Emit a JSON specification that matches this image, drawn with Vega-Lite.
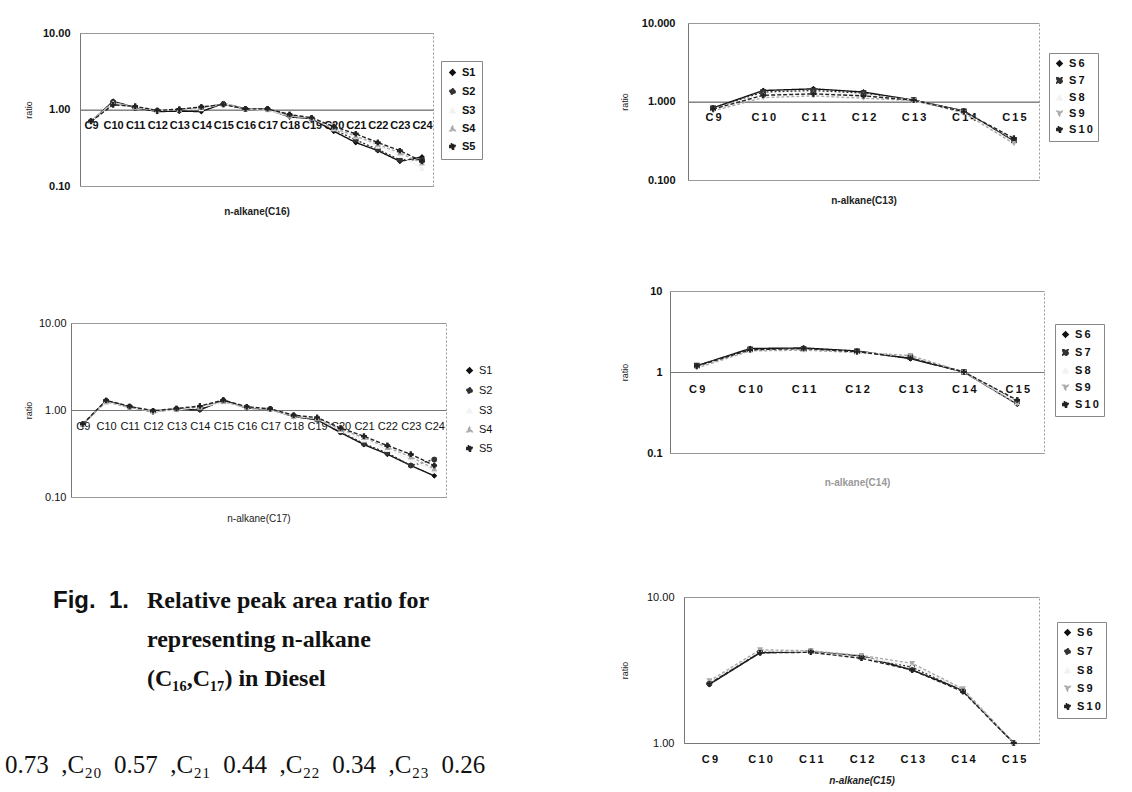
{
  "$schema": "https://vega.github.io/schema/vega-lite/v6.json",
  "background": "white",
  "padding": {"left": 5, "top": 16, "right": 0, "bottom": 0},
  "datasets": {
    "c16": [
      {"c":"C9","s":"S1","v":0.69},{"c":"C9","s":"S2","v":0.70},{"c":"C9","s":"S3","v":0.70},{"c":"C9","s":"S4","v":0.71},{"c":"C9","s":"S5","v":0.70},
      {"c":"C10","s":"S1","v":1.28},{"c":"C10","s":"S2","v":1.25},{"c":"C10","s":"S3","v":1.22},{"c":"C10","s":"S4","v":1.20},{"c":"C10","s":"S5","v":1.15},
      {"c":"C11","s":"S1","v":1.06},{"c":"C11","s":"S2","v":1.05},{"c":"C11","s":"S3","v":1.07},{"c":"C11","s":"S4","v":1.08},{"c":"C11","s":"S5","v":1.10},
      {"c":"C12","s":"S1","v":0.94},{"c":"C12","s":"S2","v":0.96},{"c":"C12","s":"S3","v":0.97},{"c":"C12","s":"S4","v":0.98},{"c":"C12","s":"S5","v":0.97},
      {"c":"C13","s":"S1","v":0.95},{"c":"C13","s":"S2","v":0.98},{"c":"C13","s":"S3","v":1.00},{"c":"C13","s":"S4","v":1.00},{"c":"C13","s":"S5","v":1.01},
      {"c":"C14","s":"S1","v":0.94},{"c":"C14","s":"S2","v":1.05},{"c":"C14","s":"S3","v":1.02},{"c":"C14","s":"S4","v":1.06},{"c":"C14","s":"S5","v":1.08},
      {"c":"C15","s":"S1","v":1.20},{"c":"C15","s":"S2","v":1.18},{"c":"C15","s":"S3","v":1.19},{"c":"C15","s":"S4","v":1.17},{"c":"C15","s":"S5","v":1.16},
      {"c":"C16","s":"S1","v":1.02},{"c":"C16","s":"S2","v":1.01},{"c":"C16","s":"S3","v":1.02},{"c":"C16","s":"S4","v":1.03},{"c":"C16","s":"S5","v":1.02},
      {"c":"C17","s":"S1","v":1.00},{"c":"C17","s":"S2","v":1.01},{"c":"C17","s":"S3","v":0.98},{"c":"C17","s":"S4","v":1.00},{"c":"C17","s":"S5","v":1.02},
      {"c":"C18","s":"S1","v":0.80},{"c":"C18","s":"S2","v":0.84},{"c":"C18","s":"S3","v":0.82},{"c":"C18","s":"S4","v":0.83},{"c":"C18","s":"S5","v":0.86},
      {"c":"C19","s":"S1","v":0.76},{"c":"C19","s":"S2","v":0.75},{"c":"C19","s":"S3","v":0.78},{"c":"C19","s":"S4","v":0.76},{"c":"C19","s":"S5","v":0.78},
      {"c":"C20","s":"S1","v":0.52},{"c":"C20","s":"S2","v":0.55},{"c":"C20","s":"S3","v":0.56},{"c":"C20","s":"S4","v":0.57},{"c":"C20","s":"S5","v":0.60},
      {"c":"C21","s":"S1","v":0.37},{"c":"C21","s":"S2","v":0.40},{"c":"C21","s":"S3","v":0.44},{"c":"C21","s":"S4","v":0.45},{"c":"C21","s":"S5","v":0.48},
      {"c":"C22","s":"S1","v":0.29},{"c":"C22","s":"S2","v":0.30},{"c":"C22","s":"S3","v":0.33},{"c":"C22","s":"S4","v":0.35},{"c":"C22","s":"S5","v":0.37},
      {"c":"C23","s":"S1","v":0.21},{"c":"C23","s":"S2","v":0.22},{"c":"C23","s":"S3","v":0.25},{"c":"C23","s":"S4","v":0.27},{"c":"C23","s":"S5","v":0.29},
      {"c":"C24","s":"S1","v":0.24},{"c":"C24","s":"S2","v":0.22},{"c":"C24","s":"S3","v":0.17},{"c":"C24","s":"S4","v":0.20},{"c":"C24","s":"S5","v":0.21}
    ],
    "c17": [
      {"c":"C9","s":"S1","v":0.68},{"c":"C9","s":"S2","v":0.68},{"c":"C9","s":"S3","v":0.69},{"c":"C9","s":"S4","v":0.68},{"c":"C9","s":"S5","v":0.69},
      {"c":"C10","s":"S1","v":1.28},{"c":"C10","s":"S2","v":1.27},{"c":"C10","s":"S3","v":1.25},{"c":"C10","s":"S4","v":1.24},{"c":"C10","s":"S5","v":1.29},
      {"c":"C11","s":"S1","v":1.08},{"c":"C11","s":"S2","v":1.09},{"c":"C11","s":"S3","v":1.07},{"c":"C11","s":"S4","v":1.06},{"c":"C11","s":"S5","v":1.10},
      {"c":"C12","s":"S1","v":0.95},{"c":"C12","s":"S2","v":0.97},{"c":"C12","s":"S3","v":0.96},{"c":"C12","s":"S4","v":0.97},{"c":"C12","s":"S5","v":0.98},
      {"c":"C13","s":"S1","v":1.02},{"c":"C13","s":"S2","v":1.03},{"c":"C13","s":"S3","v":1.00},{"c":"C13","s":"S4","v":1.01},{"c":"C13","s":"S5","v":1.04},
      {"c":"C14","s":"S1","v":1.00},{"c":"C14","s":"S2","v":1.02},{"c":"C14","s":"S3","v":1.08},{"c":"C14","s":"S4","v":1.10},{"c":"C14","s":"S5","v":1.11},
      {"c":"C15","s":"S1","v":1.30},{"c":"C15","s":"S2","v":1.28},{"c":"C15","s":"S3","v":1.22},{"c":"C15","s":"S4","v":1.25},{"c":"C15","s":"S5","v":1.30},
      {"c":"C16","s":"S1","v":1.05},{"c":"C16","s":"S2","v":1.07},{"c":"C16","s":"S3","v":1.08},{"c":"C16","s":"S4","v":1.06},{"c":"C16","s":"S5","v":1.09},
      {"c":"C17","s":"S1","v":1.02},{"c":"C17","s":"S2","v":1.03},{"c":"C17","s":"S3","v":1.02},{"c":"C17","s":"S4","v":1.03},{"c":"C17","s":"S5","v":1.03},
      {"c":"C18","s":"S1","v":0.84},{"c":"C18","s":"S2","v":0.86},{"c":"C18","s":"S3","v":0.85},{"c":"C18","s":"S4","v":0.84},{"c":"C18","s":"S5","v":0.87},
      {"c":"C19","s":"S1","v":0.77},{"c":"C19","s":"S2","v":0.78},{"c":"C19","s":"S3","v":0.80},{"c":"C19","s":"S4","v":0.79},{"c":"C19","s":"S5","v":0.82},
      {"c":"C20","s":"S1","v":0.55},{"c":"C20","s":"S2","v":0.56},{"c":"C20","s":"S3","v":0.58},{"c":"C20","s":"S4","v":0.60},{"c":"C20","s":"S5","v":0.62},
      {"c":"C21","s":"S1","v":0.40},{"c":"C21","s":"S2","v":0.41},{"c":"C21","s":"S3","v":0.45},{"c":"C21","s":"S4","v":0.48},{"c":"C21","s":"S5","v":0.50},
      {"c":"C22","s":"S1","v":0.31},{"c":"C22","s":"S2","v":0.32},{"c":"C22","s":"S3","v":0.35},{"c":"C22","s":"S4","v":0.37},{"c":"C22","s":"S5","v":0.39},
      {"c":"C23","s":"S1","v":0.23},{"c":"C23","s":"S2","v":0.23},{"c":"C23","s":"S3","v":0.27},{"c":"C23","s":"S4","v":0.29},{"c":"C23","s":"S5","v":0.31},
      {"c":"C24","s":"S1","v":0.175},{"c":"C24","s":"S2","v":0.27},{"c":"C24","s":"S3","v":0.20},{"c":"C24","s":"S4","v":0.21},{"c":"C24","s":"S5","v":0.23}
    ],
    "c13": [
      {"c":"C9","s":"S6","v":0.83},{"c":"C9","s":"S7","v":0.82},{"c":"C9","s":"S8","v":0.80},{"c":"C9","s":"S9","v":0.76},{"c":"C9","s":"S10","v":0.80},
      {"c":"C10","s":"S6","v":1.38},{"c":"C10","s":"S7","v":1.32},{"c":"C10","s":"S8","v":1.25},{"c":"C10","s":"S9","v":1.12},{"c":"C10","s":"S10","v":1.20},
      {"c":"C11","s":"S6","v":1.45},{"c":"C11","s":"S7","v":1.38},{"c":"C11","s":"S8","v":1.30},{"c":"C11","s":"S9","v":1.18},{"c":"C11","s":"S10","v":1.25},
      {"c":"C12","s":"S6","v":1.32},{"c":"C12","s":"S7","v":1.28},{"c":"C12","s":"S8","v":1.22},{"c":"C12","s":"S9","v":1.10},{"c":"C12","s":"S10","v":1.18},
      {"c":"C13","s":"S6","v":1.04},{"c":"C13","s":"S7","v":1.04},{"c":"C13","s":"S8","v":1.03},{"c":"C13","s":"S9","v":1.03},{"c":"C13","s":"S10","v":1.04},
      {"c":"C14","s":"S6","v":0.76},{"c":"C14","s":"S7","v":0.75},{"c":"C14","s":"S8","v":0.74},{"c":"C14","s":"S9","v":0.72},{"c":"C14","s":"S10","v":0.74},
      {"c":"C15","s":"S6","v":0.31},{"c":"C15","s":"S7","v":0.32},{"c":"C15","s":"S8","v":0.30},{"c":"C15","s":"S9","v":0.29},{"c":"C15","s":"S10","v":0.34}
    ],
    "c14": [
      {"c":"C9","s":"S6","v":1.19},{"c":"C9","s":"S7","v":1.20},{"c":"C9","s":"S8","v":1.15},{"c":"C9","s":"S9","v":1.12},{"c":"C9","s":"S10","v":1.18},
      {"c":"C10","s":"S6","v":1.95},{"c":"C10","s":"S7","v":1.90},{"c":"C10","s":"S8","v":1.85},{"c":"C10","s":"S9","v":1.82},{"c":"C10","s":"S10","v":1.88},
      {"c":"C11","s":"S6","v":1.98},{"c":"C11","s":"S7","v":1.92},{"c":"C11","s":"S8","v":1.88},{"c":"C11","s":"S9","v":1.86},{"c":"C11","s":"S10","v":1.95},
      {"c":"C12","s":"S6","v":1.82},{"c":"C12","s":"S7","v":1.80},{"c":"C12","s":"S8","v":1.76},{"c":"C12","s":"S9","v":1.74},{"c":"C12","s":"S10","v":1.78},
      {"c":"C13","s":"S6","v":1.46},{"c":"C13","s":"S7","v":1.52},{"c":"C13","s":"S8","v":1.56},{"c":"C13","s":"S9","v":1.60},{"c":"C13","s":"S10","v":1.48},
      {"c":"C14","s":"S6","v":1.00},{"c":"C14","s":"S7","v":1.00},{"c":"C14","s":"S8","v":1.00},{"c":"C14","s":"S9","v":1.00},{"c":"C14","s":"S10","v":1.00},
      {"c":"C15","s":"S6","v":0.40},{"c":"C15","s":"S7","v":0.43},{"c":"C15","s":"S8","v":0.42},{"c":"C15","s":"S9","v":0.40},{"c":"C15","s":"S10","v":0.45}
    ],
    "c15": [
      {"c":"C9","s":"S6","v":2.52},{"c":"C9","s":"S7","v":2.55},{"c":"C9","s":"S8","v":2.60},{"c":"C9","s":"S9","v":2.66},{"c":"C9","s":"S10","v":2.55},
      {"c":"C10","s":"S6","v":4.15},{"c":"C10","s":"S7","v":4.20},{"c":"C10","s":"S8","v":4.30},{"c":"C10","s":"S9","v":4.35},{"c":"C10","s":"S10","v":4.15},
      {"c":"C11","s":"S6","v":4.22},{"c":"C11","s":"S7","v":4.25},{"c":"C11","s":"S8","v":4.20},{"c":"C11","s":"S9","v":4.28},{"c":"C11","s":"S10","v":4.18},
      {"c":"C12","s":"S6","v":3.94},{"c":"C12","s":"S7","v":3.90},{"c":"C12","s":"S8","v":3.85},{"c":"C12","s":"S9","v":3.98},{"c":"C12","s":"S10","v":3.80},
      {"c":"C13","s":"S6","v":3.16},{"c":"C13","s":"S7","v":3.30},{"c":"C13","s":"S8","v":3.40},{"c":"C13","s":"S9","v":3.51},{"c":"C13","s":"S10","v":3.16},
      {"c":"C14","s":"S6","v":2.30},{"c":"C14","s":"S7","v":2.28},{"c":"C14","s":"S8","v":2.33},{"c":"C14","s":"S9","v":2.35},{"c":"C14","s":"S10","v":2.25},
      {"c":"C15","s":"S6","v":1.00},{"c":"C15","s":"S7","v":1.00},{"c":"C15","s":"S8","v":1.00},{"c":"C15","s":"S9","v":1.00},{"c":"C15","s":"S10","v":1.00}
    ]
  },
  "spacing": 119,
  "resolve": {"scale": {"color": "independent", "shape": "independent", "strokeDash": "independent"}, "legend": {"color": "independent", "shape": "independent", "strokeDash": "independent"}},
  "hconcat": [
    {
      "spacing": 2,
      "resolve": {"scale": {"color": "independent", "shape": "independent", "strokeDash": "independent"}, "legend": {"color": "independent", "shape": "independent", "strokeDash": "independent"}},
      "title": {"text": "0.73\u00a0\u00a0,C₂₀\u00a0\u00a00.57\u00a0\u00a0,C₂₁\u00a0\u00a00.44\u00a0\u00a0,C₂₂\u00a0\u00a00.34\u00a0\u00a0,C₂₃\u00a0\u00a00.26", "orient": "bottom", "anchor": "start", "offset": 62, "dx": -17, "font": "Liberation Serif", "fontSize": 25, "fontWeight": "normal", "color": "#111"},
      "vconcat": [
        {"width": 1, "height": 1, "view": {"stroke": null}, "data": {"values": []}, "mark": "point", "encoding": {}},
        {
          "spacing": 65,
          "resolve": {"scale": {"color": "independent", "shape": "independent", "strokeDash": "independent"}, "legend": {"color": "independent", "shape": "independent", "strokeDash": "independent"}},
          "vconcat": [
            {
              "spacing": 99,
              "resolve": {"scale": {"color": "independent", "shape": "independent", "strokeDash": "independent"}, "legend": {"color": "independent", "shape": "independent", "strokeDash": "independent"}},
              "vconcat": [
                {
                  "spacing": 0,
                  "resolve": {"scale": {"color": "independent", "shape": "independent", "strokeDash": "independent"}, "legend": {"color": "independent", "shape": "independent", "strokeDash": "independent"}},
                  "hconcat": [
                    {"width": 1, "height": 1, "view": {"stroke": null}, "data": {"values": []}, "mark": "point", "encoding": {}},
                    {
                      "width": 353, "height": 153,
                      "data": {"name": "c16"},
                      "encoding": {
                        "x": {"field": "c", "type": "ordinal", "sort": ["C9","C10","C11","C12","C13","C14","C15","C16","C17","C18","C19","C20","C21","C22","C23","C24"], "scale": {"type": "point", "padding": 0.5},
                          "axis": {"title": "n-alkane(C16)", "offset": -76.5, "labelAngle": 0, "labelPadding": 10, "labelFontSize": 11, "titleY": 101.5, "titleBaseline": "middle", "titleFontSize": 10, "titleFontWeight": "bold"}},
                        "y": {"field": "v", "type": "quantitative", "scale": {"type": "log", "domain": [0.1, 10]},
                          "axis": {"title": "ratio", "values": [0.1, 1, 10], "format": ".2f", "labelPadding": 10, "minExtent": 43, "maxExtent": 43, "titlePadding": 4, "labelFontSize": 11}},
                        "color": {"field": "s", "type": "nominal", "scale": {"domain": ["S1","S2","S3","S4","S5"], "range": ["#111111","#333333","#f2f2f2","#aaaaaa","#222222"]},
                          "legend": {"title": null, "orient": "none", "legendX": 361, "legendY": 28, "strokeColor": "#888", "padding": 6, "rowPadding": 6}},
                        "shape": {"field": "s", "type": "nominal", "scale": {"domain": ["S1","S2","S3","S4","S5"], "range": ["diamond","circle","triangle-up","triangle-up","cross"]}},
                        "strokeDash": {"field": "s", "type": "nominal", "scale": {"domain": ["S1","S2","S3","S4","S5"], "range": [[1,0],[2,2],[1,0],[3,2],[4,2]]}}
                      },
                      "layer": [
                        {"mark": {"type": "line", "strokeWidth": 1.4}},
                        {"mark": {"type": "point", "filled": true, "size": 30, "opacity": 1}}
                      ]
                    }
                  ]
                },
                {
                  "spacing": 0,
                  "resolve": {"scale": {"color": "independent", "shape": "independent", "strokeDash": "independent"}, "legend": {"color": "independent", "shape": "independent", "strokeDash": "independent"}},
                  "hconcat": [
                    {"width": 1, "height": 1, "view": {"stroke": null}, "data": {"values": []}, "mark": "point", "encoding": {}},
                    {
                      "width": 375, "height": 174,
                      "data": {"name": "c17"},
                      "encoding": {
                        "x": {"field": "c", "type": "ordinal", "sort": ["C9","C10","C11","C12","C13","C14","C15","C16","C17","C18","C19","C20","C21","C22","C23","C24"], "scale": {"type": "point", "padding": 0.5},
                          "axis": {"title": "n-alkane(C17)", "offset": -87, "labelAngle": 0, "labelPadding": 10, "labelFontSize": 11, "labelFontWeight": "normal", "titleY": 108, "titleBaseline": "middle", "titleFontSize": 10, "titleFontWeight": "normal"}},
                        "y": {"field": "v", "type": "quantitative", "scale": {"type": "log", "domain": [0.1, 10]},
                          "axis": {"title": "ratio", "values": [0.1, 1, 10], "format": ".2f", "labelPadding": 5, "minExtent": 34, "maxExtent": 34, "titlePadding": 4, "labelFontSize": 11, "labelFontWeight": "normal"}},
                        "color": {"field": "s", "type": "nominal", "scale": {"domain": ["S1","S2","S3","S4","S5"], "range": ["#111111","#333333","#f2f2f2","#aaaaaa","#222222"]},
                          "legend": {"title": null, "orient": "none", "legendX": 388, "legendY": 37, "padding": 5, "rowPadding": 7, "labelFontWeight": "normal"}},
                        "shape": {"field": "s", "type": "nominal", "scale": {"domain": ["S1","S2","S3","S4","S5"], "range": ["diamond","circle","triangle-up","triangle-up","cross"]}},
                        "strokeDash": {"field": "s", "type": "nominal", "scale": {"domain": ["S1","S2","S3","S4","S5"], "range": [[1,0],[2,2],[1,0],[3,2],[4,2]]}}
                      },
                      "layer": [
                        {"mark": {"type": "line", "strokeWidth": 1.4}},
                        {"mark": {"type": "point", "filled": true, "size": 30, "opacity": 1}}
                      ]
                    }
                  ]
                }
              ]
            },
            {
              "width": 250, "height": 78,
              "view": {"stroke": null},
              "data": {"values": [
                {"part": "fig", "row": 1, "t": "Fig.\u00a0\u00a01."},
                {"part": "body", "row": 1, "t": "Relative peak area ratio for"},
                {"part": "body", "row": 2, "t": "representing n-alkane"},
                {"part": "body", "row": 3, "t": "(C₁₆,C₁₇) in Diesel"}
              ]},
              "encoding": {
                "y": {"field": "row", "type": "ordinal", "scale": {"type": "point", "padding": 0, "domain": [1, 2, 3]}, "axis": null},
                "text": {"field": "t"}
              },
              "layer": [
                {"transform": [{"filter": "datum.part == 'fig'"}], "mark": {"type": "text", "align": "right", "dx": -18, "font": "Liberation Sans", "fontWeight": "bold", "fontSize": 24, "color": "#111"}},
                {"transform": [{"filter": "datum.part == 'body'"}], "mark": {"type": "text", "align": "left", "dx": 0, "font": "Liberation Serif", "fontWeight": "bold", "fontSize": 24, "color": "#111"}}
              ]
            }
          ]
        }
      ]
    },
    {
      "spacing": 102,
      "resolve": {"scale": {"color": "independent", "shape": "independent", "strokeDash": "independent"}, "legend": {"color": "independent", "shape": "independent", "strokeDash": "independent"}},
      "vconcat": [
        {
          "spacing": 78,
          "resolve": {"scale": {"color": "independent", "shape": "independent", "strokeDash": "independent"}, "legend": {"color": "independent", "shape": "independent", "strokeDash": "independent"}},
          "vconcat": [
            {
              "spacing": 0,
              "resolve": {"scale": {"color": "independent", "shape": "independent", "strokeDash": "independent"}, "legend": {"color": "independent", "shape": "independent", "strokeDash": "independent"}},
              "hconcat": [
                {"width": 1, "height": 1, "view": {"stroke": null}, "data": {"values": []}, "mark": "point", "encoding": {}},
                {
                  "width": 351, "height": 157,
                  "data": {"name": "c13"},
                  "encoding": {
                    "x": {"field": "c", "type": "ordinal", "sort": ["C9","C10","C11","C12","C13","C14","C15"], "scale": {"type": "point", "padding": 0.5},
                      "axis": {"title": "n-alkane(C13)", "offset": -78.5, "labelAngle": 0, "labelPadding": 10, "labelFontSize": 11, "labelExpr": "join(split(datum.label, ''), '\u2009')", "titleY": 98.5, "titleBaseline": "middle", "titleFontSize": 10, "titleFontWeight": "bold"}},
                    "y": {"field": "v", "type": "quantitative", "scale": {"type": "log", "domain": [0.1, 10]},
                      "axis": {"title": "ratio", "values": [0.1, 1, 10], "format": ".3f", "labelPadding": 13, "minExtent": 55, "maxExtent": 55, "titlePadding": 4, "labelFontSize": 11}},
                    "color": {"field": "s", "type": "nominal", "scale": {"domain": ["S6","S7","S8","S9","S10"], "range": ["#111111","#333333","#f2f2f2","#aaaaaa","#222222"]},
                      "legend": {"title": null, "orient": "none", "legendX": 361, "legendY": 30, "strokeColor": "#888", "padding": 5, "rowPadding": 4, "labelExpr": "join(split(datum.label, ''), '\u2009')"}},
                    "shape": {"field": "s", "type": "nominal", "scale": {"domain": ["S6","S7","S8","S9","S10"], "range": ["diamond","square","triangle-up","triangle-down","cross"]}},
                    "strokeDash": {"field": "s", "type": "nominal", "scale": {"domain": ["S6","S7","S8","S9","S10"], "range": [[1,0],[2,2],[1,0],[3,2],[4,2]]}}
                  },
                  "layer": [
                    {"mark": {"type": "line", "strokeWidth": 1.4}},
                    {"mark": {"type": "point", "filled": true, "size": 30, "opacity": 1}}
                  ]
                }
              ]
            },
            {
              "spacing": 0,
              "resolve": {"scale": {"color": "independent", "shape": "independent", "strokeDash": "independent"}, "legend": {"color": "independent", "shape": "independent", "strokeDash": "independent"}},
              "hconcat": [
                {"width": 1, "height": 1, "view": {"stroke": null}, "data": {"values": []}, "mark": "point", "encoding": {}},
                {
                  "width": 374, "height": 162,
                  "data": {"name": "c14"},
                  "encoding": {
                    "x": {"field": "c", "type": "ordinal", "sort": ["C9","C10","C11","C12","C13","C14","C15"], "scale": {"type": "point", "padding": 0.5},
                      "axis": {"title": "n-alkane(C14)", "offset": -81, "labelAngle": 0, "labelPadding": 11, "labelFontSize": 11, "labelExpr": "join(split(datum.label, ''), '\u2009')", "titleY": 110, "titleBaseline": "middle", "titleFontSize": 10, "titleFontWeight": "bold", "titleColor": "#999"}},
                    "y": {"field": "v", "type": "quantitative", "scale": {"type": "log", "domain": [0.1, 10]},
                      "axis": {"title": "ratio", "values": [0.1, 1, 10], "format": "~g", "labelPadding": 8, "minExtent": 37, "maxExtent": 37, "titlePadding": 4, "labelFontSize": 11}},
                    "color": {"field": "s", "type": "nominal", "scale": {"domain": ["S6","S7","S8","S9","S10"], "range": ["#111111","#333333","#f2f2f2","#aaaaaa","#222222"]},
                      "legend": {"title": null, "orient": "none", "legendX": 385, "legendY": 33, "strokeColor": "#888", "padding": 5, "rowPadding": 5, "labelExpr": "join(split(datum.label, ''), '\u2009')"}},
                    "shape": {"field": "s", "type": "nominal", "scale": {"domain": ["S6","S7","S8","S9","S10"], "range": ["diamond","square","triangle-up","triangle-down","cross"]}},
                    "strokeDash": {"field": "s", "type": "nominal", "scale": {"domain": ["S6","S7","S8","S9","S10"], "range": [[1,0],[2,2],[1,0],[3,2],[4,2]]}}
                  },
                  "layer": [
                    {"mark": {"type": "line", "strokeWidth": 1.4}},
                    {"mark": {"type": "point", "filled": true, "size": 30, "opacity": 1}}
                  ]
                }
              ]
            }
          ]
        },
        {
          "spacing": 0,
          "resolve": {"scale": {"color": "independent", "shape": "independent", "strokeDash": "independent"}, "legend": {"color": "independent", "shape": "independent", "strokeDash": "independent"}},
          "hconcat": [
            {"width": 1, "height": 1, "view": {"stroke": null}, "data": {"values": []}, "mark": "point", "encoding": {}},
            {
              "width": 355, "height": 146,
              "data": {"name": "c15"},
              "encoding": {
                "x": {"field": "c", "type": "ordinal", "sort": ["C9","C10","C11","C12","C13","C14","C15"], "scale": {"type": "point", "padding": 0.5},
                  "axis": {"title": "n-alkane(C15)", "labelAngle": 0, "labelPadding": 10, "labelFontSize": 11, "labelExpr": "join(split(datum.label, ''), '\u2009')", "titleY": 37, "titleBaseline": "middle", "titleFontSize": 10, "titleFontWeight": "bold", "titleFontStyle": "italic"}},
                "y": {"field": "v", "type": "quantitative", "scale": {"type": "log", "domain": [1, 10]},
                  "axis": {"title": "ratio", "values": [1, 10], "format": ".2f", "labelPadding": 10, "minExtent": 51, "maxExtent": 51, "titlePadding": 4, "labelFontSize": 11, "labelFontWeight": "normal"}},
                "color": {"field": "s", "type": "nominal", "scale": {"domain": ["S6","S7","S8","S9","S10"], "range": ["#111111","#333333","#f2f2f2","#aaaaaa","#222222"]},
                  "legend": {"title": null, "orient": "none", "legendX": 373, "legendY": 25, "strokeColor": "#888", "padding": 5, "rowPadding": 6, "labelExpr": "join(split(datum.label, ''), '\u2009')"}},
                "shape": {"field": "s", "type": "nominal", "scale": {"domain": ["S6","S7","S8","S9","S10"], "range": ["diamond","circle","triangle-up","triangle-down","cross"]}},
                "strokeDash": {"field": "s", "type": "nominal", "scale": {"domain": ["S6","S7","S8","S9","S10"], "range": [[1,0],[2,2],[1,0],[3,2],[4,2]]}}
              },
              "layer": [
                {"mark": {"type": "line", "strokeWidth": 1.4}},
                {"mark": {"type": "point", "filled": true, "size": 30, "opacity": 1}}
              ]
            }
          ]
        }
      ]
    }
  ],
  "config": {
    "font": "Liberation Sans",
    "view": {"stroke": "#999", "strokeDash": [2, 2]},
    "axis": {"labelFont": "Liberation Sans", "labelFontWeight": "bold", "labelColor": "#111", "titleFont": "Liberation Sans", "titleFontSize": 9, "titleFontWeight": "normal", "titleColor": "#222", "ticks": false, "domainColor": "#777", "gridColor": "#999", "grid": false},
    "axisY": {"grid": true},
    "legend": {"labelFont": "Liberation Sans", "labelFontWeight": "bold", "labelFontSize": 11, "labelColor": "#111", "symbolSize": 30, "symbolStrokeWidth": 1.4}
  }
}
